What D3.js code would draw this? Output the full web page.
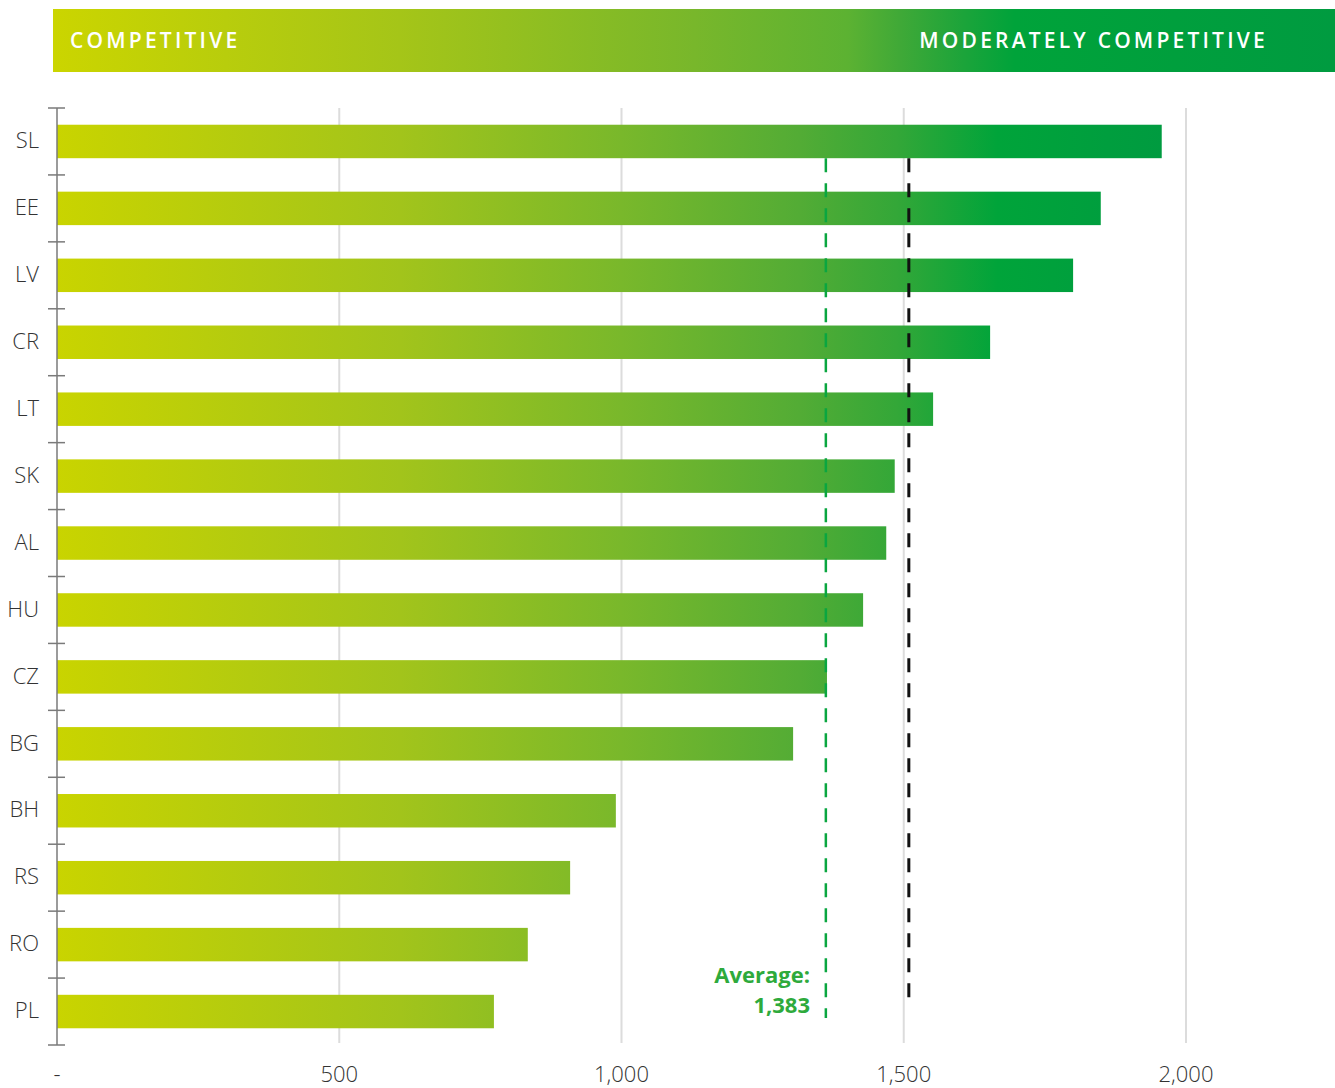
<!DOCTYPE html>
<html>
<head>
<meta charset="utf-8">
<script src="https://cdn.jsdelivr.net/npm/d3@7"></script>
<style>
  body { margin: 0; background: #fff; font-family: "Open Sans", sans-serif; }
</style>
</head>
<body>
<svg id="chart" width="1335" height="1088"></svg>
<script>
// data
var countries = ["SL", "EE", "LV", "CR", "LT", "SK", "AL", "HU", "CZ", "BG", "BH", "RS", "RO", "PL"];
var values = [1957, 1849, 1800, 1653, 1552, 1484, 1469, 1428, 1364, 1304, 990, 909, 834, 774];
var xTicks = [0, 500, 1000, 1500, 2000];
var tickLabels = ["-", "500", "1,000", "1,500", "2,000"];
var avgPos = 1362;
var avgLabel = ["Average:", "1,383"];
var thresholdPos = 1509;
var headerLabels = ["COMPETITIVE", "MODERATELY COMPETITIVE"];

var svg = d3.select("#chart");
var margin = {left: 57, top: 108, right: 1335, bottom: 1045};

var x = d3.scaleLinear().domain([0, 2000]).range([57, 1186]);
var y = d3.scaleBand().domain(countries).range([margin.top, margin.bottom]).paddingInner(0.5).paddingOuter(0.25);
var yLines = d3.scaleLinear().domain([0, countries.length]).range([margin.top, margin.bottom]);

var defs = svg.append("defs");

// one gradient shared by every bar (same colour at same x)
var grad = defs.append("linearGradient")
  .attr("id", "barGrad")
  .attr("gradientUnits", "userSpaceOnUse")
  .attr("x1", x(0)).attr("x2", x(1960))
  .attr("y1", 0).attr("y2", 0);
var stops = [[0, "#c9d400"], [0.31, "#a2c41b"], [0.51, "#79b82b"], [0.67, "#53ac35"], [0.76, "#33a738"], [0.85, "#00a43a"], [1, "#009b40"]];
stops.forEach(function(s) {
  grad.append("stop").attr("offset", s[0]).attr("stop-color", s[1]);
});

var hgrad = defs.append("linearGradient")
  .attr("id", "headGrad")
  .attr("gradientUnits", "userSpaceOnUse")
  .attr("x1", 53).attr("x2", 1335)
  .attr("y1", 0).attr("y2", 0);
[[0, "#cbd500"], [0.27, "#a5c518"], [0.5, "#78b72b"], [0.62, "#5cb232"], [0.66, "#40a937"], [0.71, "#1ca43a"], [0.75, "#00a33a"], [1, "#009b40"]].forEach(function(s) {
  hgrad.append("stop").attr("offset", s[0]).attr("stop-color", s[1]);
});

// header band
svg.append("rect")
  .attr("x", 53).attr("y", 9)
  .attr("width", 1335 - 53).attr("height", 63)
  .attr("fill", "url(#headGrad)");

svg.append("text")
  .attr("x", 70).attr("y", 48)
  .attr("fill", "#fff")
  .attr("font-size", 21)
  .attr("font-weight", 600)
  .attr("letter-spacing", 3.2)
  .text(headerLabels[0]);

svg.append("text")
  .attr("x", 1268).attr("y", 48)
  .attr("text-anchor", "end")
  .attr("fill", "#fff")
  .attr("font-size", 21)
  .attr("font-weight", 600)
  .attr("letter-spacing", 3.2)
  .text(headerLabels[1]);

// grid lines
svg.selectAll(".grid")
  .data(xTicks.slice(1))
  .enter()
  .append("line")
  .attr("class", "grid")
  .attr("x1", d => x(d)).attr("x2", d => x(d))
  .attr("y1", margin.top).attr("y2", margin.bottom - 2)
  .attr("stroke", "#dcdcdc")
  .attr("stroke-width", 2);

// bars
svg.selectAll(".bar")
  .data(values)
  .enter()
  .append("rect")
  .attr("class", "bar")
  .attr("x", x(0))
  .attr("y", (d, i) => y(countries[i]))
  .attr("width", d => x(d) - x(0))
  .attr("height", y.bandwidth())
  .attr("fill", "url(#barGrad)");

// left axis
svg.append("line")
  .attr("x1", x(0)).attr("x2", x(0))
  .attr("y1", margin.top).attr("y2", margin.bottom)
  .attr("stroke", "#7a7a7a").attr("stroke-width", 1.5);

svg.selectAll(".ytick")
  .data(d3.range(countries.length + 1))
  .enter()
  .append("line")
  .attr("class", "ytick")
  .attr("x1", 48).attr("x2", 65)
  .attr("y1", d => yLines(d)).attr("y2", d => yLines(d))
  .attr("stroke", "#7a7a7a").attr("stroke-width", 1.5);

svg.selectAll(".ylab")
  .data(countries)
  .enter()
  .append("text")
  .attr("class", "ylab")
  .attr("x", 39)
  .attr("y", d => y(d) + y.bandwidth() / 2 - 1)
  .attr("dy", "0.35em")
  .attr("text-anchor", "end")
  .attr("fill", "#333")
  .attr("font-size", 22)
  .attr("font-weight", 300)
  .text(d => d);

// bottom tick labels
svg.selectAll(".xlab")
  .data(xTicks)
  .enter()
  .append("text")
  .attr("class", "xlab")
  .attr("x", d => x(d))
  .attr("y", 1082)
  .attr("text-anchor", "middle")
  .attr("fill", "#333")
  .attr("font-size", 22)
  .attr("font-weight", 300)
  .text((d, i) => tickLabels[i]);

// threshold (black dashed)
svg.append("line")
  .attr("x1", x(thresholdPos)).attr("x2", x(thresholdPos))
  .attr("y1", y("SL") + y.bandwidth()).attr("y2", 1000)
  .attr("stroke", "#111")
  .attr("stroke-width", 3)
  .attr("stroke-dasharray", "14,11");

// average line (green dashed)
svg.append("line")
  .attr("x1", x(avgPos)).attr("x2", x(avgPos))
  .attr("y1", y("SL") + y.bandwidth()).attr("y2", 1018)
  .attr("stroke", "#0aa640")
  .attr("stroke-width", 2.5)
  .attr("stroke-dasharray", "14,11");

svg.selectAll(".avglab")
  .data(avgLabel)
  .enter()
  .append("text")
  .attr("class", "avglab")
  .attr("x", 810)
  .attr("y", (d, i) => 983 + i * 30)
  .attr("text-anchor", "end")
  .attr("fill", "#2eaa3c")
  .attr("font-size", 22)
  .attr("font-weight", 700)
  .text(d => d);
</script>
</body>
</html>
